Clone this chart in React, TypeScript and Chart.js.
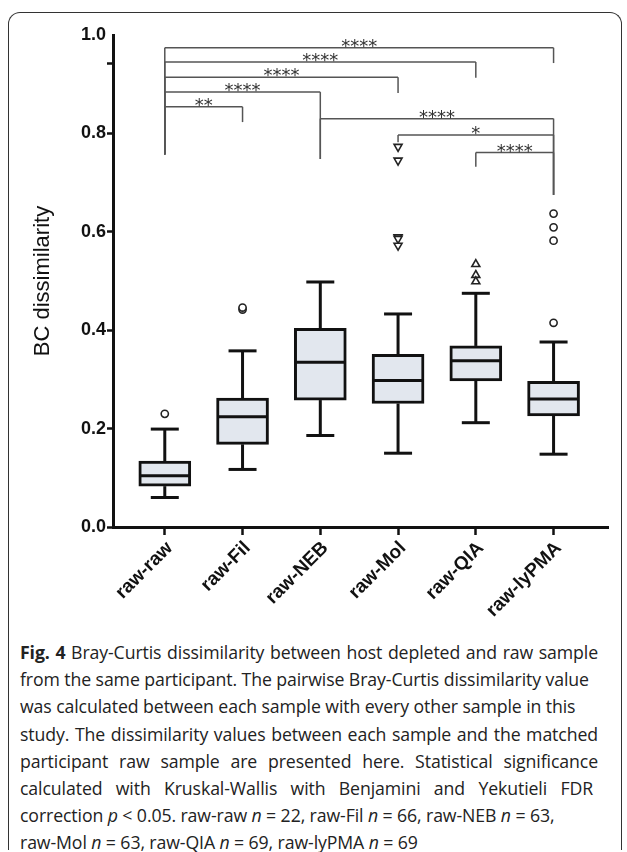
import React, { useEffect, useRef } from "react";
import { Chart, registerables } from "chart.js";

Chart.register(...registerables);

// ---- data ----
const categories = ["raw-raw", "raw-Fil", "raw-NEB", "raw-Mol", "raw-QIA", "raw-lyPMA"];
const whiskerLow = [0.06, 0.117, 0.186, 0.15, 0.212, 0.148];
const q1 = [0.083, 0.168, 0.258, 0.251, 0.297, 0.226];
const median = [0.104, 0.224, 0.335, 0.298, 0.338, 0.26];
const q3 = [0.134, 0.262, 0.404, 0.351, 0.368, 0.296];
const whiskerHigh = [0.199, 0.358, 0.498, 0.433, 0.475, 0.376];

const outliersRawRaw = [0.23];
const outliersFil = [0.442, 0.446];
const outliersMol = [0.773, 0.745, 0.589, 0.586, 0.572];
const outliersQIA = [0.534, 0.512, 0.499];
const outliersLyPMA = [0.637, 0.609, 0.582, 0.415];

const yTickValues = [0, 0.2, 0.4, 0.6, 0.8, 0.943, 1.0];
const yTickLabels = ["0.0", "0.2", "0.4", "0.6", "0.8", "", "1.0"];

// significance brackets (group indices, level and drop ends in data units)
const sigFrom = [0, 0, 0, 0, 0, 2, 3, 4];
const sigTo = [1, 2, 3, 4, 5, 5, 5, 5];
const sigLevel = [0.854, 0.884, 0.914, 0.945, 0.974, 0.83, 0.797, 0.761];
const sigFromEnd = [0.757, 0.757, 0.757, 0.757, 0.757, 0.748, 0.782, 0.732];
const sigToEnd = [0.823, 0.748, 0.882, 0.913, 0.943, 0.675, 0.675, 0.675];
const sigLabel = ["**", "****", "****", "****", "****", "****", "*", "****"];

const boxPlugin = {
  id: "boxDetails",
  afterDatasetsDraw(chart: any) {
    const { ctx } = chart;
    const x = chart.scales.x;
    const y = chart.scales.y;
    const line = (x1: number, y1: number, x2: number, y2: number) => {
      ctx.beginPath();
      ctx.moveTo(x1, y1);
      ctx.lineTo(x2, y2);
      ctx.stroke();
    };
    ctx.save();
    ctx.strokeStyle = "#111";
    ctx.lineWidth = 3;
    ctx.lineCap = "butt";
    categories.forEach((_, i) => {
      const cx = x.getPixelForValue(i);
      const half = 26;
      const cap = 14;
      line(cx, y.getPixelForValue(q3[i]), cx, y.getPixelForValue(whiskerHigh[i]));
      line(cx, y.getPixelForValue(q1[i]), cx, y.getPixelForValue(whiskerLow[i]));
      line(cx - cap, y.getPixelForValue(whiskerHigh[i]), cx + cap, y.getPixelForValue(whiskerHigh[i]));
      line(cx - cap, y.getPixelForValue(whiskerLow[i]), cx + cap, y.getPixelForValue(whiskerLow[i]));
      line(cx - half + 1, y.getPixelForValue(median[i]), cx + half - 1, y.getPixelForValue(median[i]));
    });

    // significance brackets
    ctx.strokeStyle = "#555";
    ctx.lineWidth = 1.5;
    ctx.fillStyle = "#333";
    ctx.font = '18px "DejaVu Sans"';
    ctx.textAlign = "center";
    ctx.textBaseline = "alphabetic";
    sigFrom.forEach((a, k) => {
      const b = sigTo[k];
      const xa = x.getPixelForValue(a);
      const xb = x.getPixelForValue(b);
      const yl = y.getPixelForValue(sigLevel[k]);
      line(xa, yl, xb, yl);
      line(xa, yl, xa, y.getPixelForValue(sigFromEnd[k]));
      line(xb, yl, xb, y.getPixelForValue(sigToEnd[k]));
      ctx.fillText(sigLabel[k], (xa + xb) / 2, yl + 4);
    });
    ctx.restore();
  },
};

function ChartBox() {
  const ref = useRef<HTMLCanvasElement | null>(null);
  useEffect(() => {
    if (!ref.current) return;
    const circleStyle = {
      pointStyle: "circle",
      pointRadius: 3.6,
      pointBackgroundColor: "#fff",
      pointBorderColor: "#222",
      pointBorderWidth: 1.6,
    };
    const chart = new Chart(ref.current, {
      type: "bar",
      data: {
        datasets: [
          {
            type: "bar",
            data: categories.map((_, i) => ({ x: i, y: [q1[i], q3[i]] })) as any,
            backgroundColor: "#e2e7ee",
            borderColor: "#111",
            borderWidth: 3,
            borderSkipped: false,
            barThickness: 52,
          } as any,
          {
            type: "scatter",
            data: outliersRawRaw.map((v) => ({ x: 0, y: v })),
            ...circleStyle,
          } as any,
          {
            type: "scatter",
            data: outliersFil.map((v) => ({ x: 1, y: v })),
            ...circleStyle,
          } as any,
          {
            type: "scatter",
            data: outliersMol.map((v) => ({ x: 3, y: v })),
            pointStyle: "triangle",
            rotation: 180,
            pointRadius: 4.6,
            pointBackgroundColor: "#fff",
            pointBorderColor: "#222",
            pointBorderWidth: 1.6,
          } as any,
          {
            type: "scatter",
            data: outliersQIA.map((v) => ({ x: 4, y: v })),
            pointStyle: "triangle",
            pointRadius: 4.6,
            pointBackgroundColor: "#fff",
            pointBorderColor: "#222",
            pointBorderWidth: 1.6,
          } as any,
          {
            type: "scatter",
            data: outliersLyPMA.map((v) => ({ x: 5, y: v })),
            ...circleStyle,
          } as any,
        ],
      },
      options: {
        responsive: false,
        animation: false,
        events: [],
        layout: { padding: { left: 0, top: 35, right: 19, bottom: 0 } },
        plugins: { legend: { display: false }, tooltip: { enabled: false } },
        scales: {
          x: {
            type: "linear",
            offset: false,
            min: -0.666,
            max: 5.7,
            afterBuildTicks: (scale: any) => {
              scale.ticks = categories.map((_, i) => ({ value: i }));
            },
            afterFit: (scale: any) => {
              scale.height = 103;
              scale.paddingLeft = 0;
              scale.paddingRight = 0;
            },
            border: { display: true, width: 3, color: "#111" },
            grid: {
              display: true,
              offset: false,
              drawOnChartArea: false,
              drawTicks: true,
              tickLength: 8,
              tickWidth: 2.5,
              tickColor: "#111",
            },
            ticks: {
              autoSkip: false,
              minRotation: 45,
              maxRotation: 45,
              padding: 2,
              labelOffset: 5,
              color: "#111",
              font: { family: '"Liberation Sans", Arial', size: 19, weight: "bold" },
              callback: (v: any) => categories[Math.round(v)] ?? "",
            },
          },
          y: {
            type: "linear",
            min: 0,
            max: 1,
            afterBuildTicks: (scale: any) => {
              scale.ticks = yTickValues.map((v) => ({ value: v }));
            },
            afterFit: (scale: any) => {
              scale.width = 113;
            },
            border: { display: true, width: 3, color: "#111" },
            grid: {
              display: true,
              drawOnChartArea: false,
              drawTicks: true,
              tickLength: 6,
              tickWidth: 2.5,
              tickColor: (c: any) => (c.tick && c.tick.value === 1 ? "rgba(0,0,0,0)" : "#111"),
            },
            ticks: {
              padding: 1,
              color: "#111",
              font: { family: '"Liberation Sans", Arial', size: 18, weight: "bold" },
              callback: (v: any) => {
                const idx = yTickValues.indexOf(v);
                return idx >= 0 ? yTickLabels[idx] : "";
              },
            },
            title: {
              display: true,
              text: "BC dissimilarity",
              color: "#111",
              font: { family: '"Liberation Sans", Arial', size: 22, weight: "normal" },
              padding: { top: 30, bottom: 0 },
            },
          },
        },
      } as any,
      plugins: [boxPlugin],
    });
    return () => chart.destroy();
  }, []);
  return (
    <canvas
      ref={ref}
      width={627}
      height={630}
      style={{ position: "absolute", left: 0, top: 0, width: 627, height: 630 }}
    />
  );
}

const lineBase: React.CSSProperties = { height: 27.2, whiteSpace: "nowrap" };
const just: React.CSSProperties = { textAlign: "justify", textAlignLast: "justify" as any };

export default function App() {
  return (
    <div style={{ position: "absolute", left: 0, top: 0, width: 627, height: 850, background: "#fff" }}>
      <div
        style={{
          position: "absolute",
          left: 8,
          top: 12,
          width: 614,
          height: 838,
          borderTop: "1.5px solid #333",
          borderLeft: "1.5px solid #333",
          borderRight: "1.5px solid #333",
          borderTopLeftRadius: 12,
          borderTopRightRadius: 12,
          boxSizing: "border-box",
        }}
      />
      <ChartBox />
      <div
        style={{
          position: "absolute",
          left: 20,
          top: 639,
          width: 578,
          fontFamily: '"Open Sans", "Noto Sans", sans-serif',
          fontSize: 17.7,
          letterSpacing: "-0.1px",
          lineHeight: "27.2px",
          color: "#222",
        }}
      >
        <div style={{ ...lineBase, ...just, whiteSpace: "normal" }}>
          <b>Fig. 4</b> Bray-Curtis dissimilarity between host depleted and raw sample
        </div>
        <div style={lineBase}>from the same participant. The pairwise Bray-Curtis dissimilarity value</div>
        <div style={lineBase}>was calculated between each sample with every other sample in this</div>
        <div style={{ ...lineBase, ...just, whiteSpace: "normal" }}>
          study. The dissimilarity values between each sample and the matched
        </div>
        <div style={{ ...lineBase, ...just, whiteSpace: "normal" }}>
          participant raw sample are presented here. Statistical significance
        </div>
        <div style={{ ...lineBase, ...just, whiteSpace: "normal", width: 573 }}>
          calculated with Kruskal-Wallis with Benjamini and Yekutieli FDR
        </div>
        <div style={lineBase}>
          correction <i>p</i> &lt; 0.05. raw-raw <i>n</i> = 22, raw-Fil <i>n</i> = 66, raw-NEB <i>n</i> = 63,
        </div>
        <div style={lineBase}>
          raw-Mol <i>n</i> = 63, raw-QIA <i>n</i> = 69, raw-lyPMA <i>n</i> = 69
        </div>
      </div>
    </div>
  );
}
